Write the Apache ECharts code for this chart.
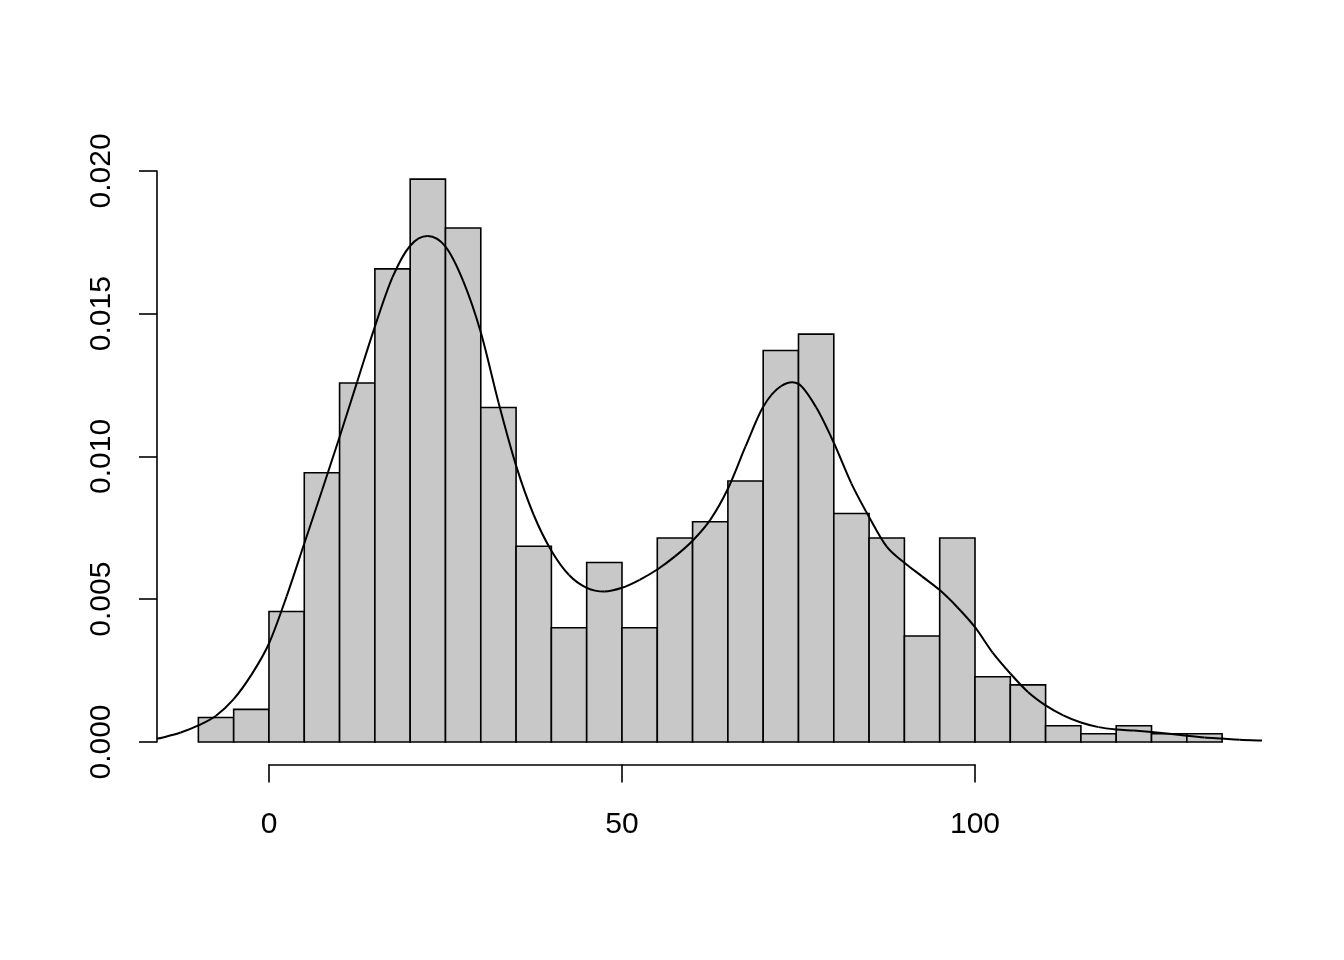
<!DOCTYPE html>
<html>
<head>
<meta charset="utf-8">
<script src="https://cdn.jsdelivr.net/npm/echarts@6/dist/echarts.min.js"></script>
<style>
html,body{margin:0;padding:0;background:#fff;}
#chart{width:1344px;height:960px;}
</style>
</head>
<body>
<div id="chart"></div>
<script>
// ---- data ----
const binLeft  = [-10,-5,0,5,10,15,20,25,30,35,40,45,50,55,60,65,70,75,80,85,90,95,100,105,110,115,120,125,130];
const binRight = [-5,0,5,10,15,20,25,30,35,40,45,50,55,60,65,70,75,80,85,90,95,100,105,110,115,120,125,130,135];
const binDensity = [0.000857,0.001143,0.004571,0.009429,0.012571,0.016571,0.019714,0.018000,0.011714,0.006857,
  0.004000,0.006286,0.004000,0.007143,0.007714,0.009143,0.013714,0.014286,0.008000,0.007143,
  0.003714,0.007143,0.002286,0.002000,0.000571,0.000286,0.000571,0.000286,0.000286];

const curveX = [-15.86,-15,-12.5,-10,-7.5,-5,-2.5,0,2.5,5,7.5,10,12.5,15,17.5,20,22.5,25,27.5,30,32.5,35,37.5,40,
  42.5,45,47.5,50,52.5,55,57.5,60,62.5,65,67.5,70,72.5,75,77.5,80,82.5,85,87.5,90,92.5,95,97.5,100,
  102.5,105,107.5,110,112.5,115,117.5,120,122.5,125,127.5,130,132.5,135,137.5,140.65];
const curveY = [0.00012,0.00016,0.00033,0.00058,0.00092,0.00150,0.00235,0.00345,0.00510,0.00695,0.00880,0.01068,
  0.01262,0.01455,0.01628,0.01738,0.01772,0.01735,0.01615,0.01435,0.01190,0.00968,0.00795,0.00670,
  0.00585,0.00540,0.00527,0.00540,0.00568,0.00604,0.00650,0.00705,0.00778,0.00887,0.01035,0.01174,0.01246,0.01254,0.01172,0.01048,
  0.00905,0.00788,0.00684,0.00628,0.00580,0.00532,0.00472,0.00402,
  0.00313,0.00240,0.00175,0.00128,0.00093,0.00068,0.00052,0.00044,0.00040,0.00035,0.00029,0.00022,0.00016,0.00012,0.00008,0.00005];

const xTicks = [0, 50, 100];
const yTicks = [0, 0.005, 0.010, 0.015, 0.020];

// ---- layout ----
const W = 1344, H = 960;
const plot = {left: 157, right: 1262, top: 156.6, bottom: 764.5};
const xDom = [-15.86, 140.65];
const yMaxData = Math.max.apply(null, binDensity);
const yDom = [-0.04 * yMaxData, 1.04 * yMaxData];

function xToPx(v){ return plot.left + (v - xDom[0]) / (xDom[1] - xDom[0]) * (plot.right - plot.left); }
function yToPx(v){ return plot.bottom - (v - yDom[0]) / (yDom[1] - yDom[0]) * (plot.bottom - plot.top); }

const FONT = 'Liberation Sans, Arial, Helvetica, sans-serif';

const xTickMin = xTicks[0], xTickMax = xTicks[xTicks.length - 1];
const yTickMin = yTicks[0], yTickMax = yTicks[yTicks.length - 1];

const option = {
  backgroundColor: '#fff',
  animation: false,
  grid: [
    {left: plot.left, right: W - plot.right, top: plot.top, bottom: H - plot.bottom},
    {left: plot.left, width: 10, top: yToPx(yTickMax), bottom: H - yToPx(yTickMin)},
    {left: xToPx(xTickMin), right: W - xToPx(xTickMax), top: plot.bottom - 10, bottom: H - plot.bottom}
  ],
  xAxis: [
    {gridIndex: 0, type: 'value', min: xDom[0], max: xDom[1], show: false},
    {gridIndex: 1, type: 'value', min: 0, max: 1, show: false},
    {gridIndex: 2, type: 'value', min: xTickMin, max: xTickMax, interval: 50, position: 'bottom',
      axisLine: {show: true, lineStyle: {color: '#000', width: 1.6}},
      axisTick: {show: true, length: 18, inside: false, lineStyle: {color: '#000', width: 1.6}},
      splitLine: {show: false},
      axisLabel: {show: true, margin: 45, color: '#000', fontSize: 30, fontFamily: FONT}
    }
  ],
  yAxis: [
    {gridIndex: 0, type: 'value', min: yDom[0], max: yDom[1], show: false},
    {gridIndex: 1, type: 'value', min: yTickMin, max: yTickMax, interval: 0.005, position: 'left',
      axisLine: {show: true, lineStyle: {color: '#000', width: 1.6}},
      axisTick: {show: true, length: 18, inside: false, lineStyle: {color: '#000', width: 1.6}},
      splitLine: {show: false},
      axisLabel: {show: true, rotate: 90, margin: 40, color: '#000', fontSize: 30, fontFamily: FONT,
        formatter: v => v.toFixed(3)}
    },
    {gridIndex: 2, type: 'value', min: 0, max: 1, show: false}
  ],
  series: [
    {
      type: 'custom',
      xAxisIndex: 0, yAxisIndex: 0,
      data: binDensity.map((d, i) => [binLeft[i], binRight[i], d]),
      renderItem: function(params, api){
        const p0 = api.coord([api.value(0), api.value(2)]);
        const p1 = api.coord([api.value(1), 0]);
        return {
          type: 'rect',
          shape: {x: p0[0], y: p0[1], width: p1[0] - p0[0], height: p1[1] - p0[1]},
          style: {fill: '#c8c8c8', stroke: '#000', lineWidth: 1.6}
        };
      },
      z: 2
    },
    {
      // density curve: passes through every read point, drawn as a Catmull-Rom bezier chain
      type: 'custom',
      xAxisIndex: 0, yAxisIndex: 0,
      data: curveX.map((x, i) => [x, curveY[i]]),
      renderItem: function(params, api){
        if (params.dataIndex !== 0) return null;
        const pts = curveX.map((x, i) => api.coord([x, curveY[i]]));
        const n = pts.length;
        const children = [];
        for (let i = 0; i < n - 1; i++) {
          const a = pts[Math.max(0, i - 1)], b = pts[i], c = pts[i + 1], d = pts[Math.min(n - 1, i + 2)];
          children.push({
            type: 'bezierCurve',
            shape: {
              x1: b[0], y1: b[1], x2: c[0], y2: c[1],
              cpx1: b[0] + (c[0] - a[0]) / 6, cpy1: b[1] + (c[1] - a[1]) / 6,
              cpx2: c[0] - (d[0] - b[0]) / 6, cpy2: c[1] - (d[1] - b[1]) / 6
            },
            style: {fill: null, stroke: '#000', lineWidth: 2}
          });
        }
        return {type: 'group', children: children};
      },
      z: 3
    }
  ]
};

const chart = echarts.init(document.getElementById('chart'), null, {renderer: 'canvas'});
chart.setOption(option);
</script>
</body>
</html>
